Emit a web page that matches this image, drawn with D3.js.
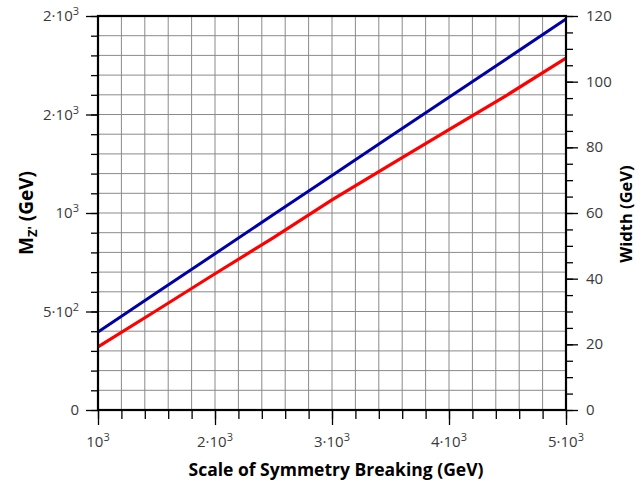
<!DOCTYPE html>
<html><head><meta charset="utf-8">
<script src="https://cdn.jsdelivr.net/npm/d3@7"></script>
<style>
body{margin:0;background:#fff;}
text{font-family:"Open Sans","DejaVu Sans",sans-serif;}
</style></head>
<body><svg id="c" width="641" height="484"></svg>
<script>
// data
const scale = [1000,1500,2000,2500,3000,3500,4000,4500,5000];
const massZp = [396,595,793,992,1190,1389,1588,1786,1985];
const widthZp = [19.2,30.3,41.5,52.5,64.0,74.7,85.4,96.0,107.2];
const leftTicks = [0,500,1000,1500,2000];
const leftLabels = [["0",""],["5·10","2"],["10","3"],["2·10","3"],["2·10","3"]];
const bottomTicks = [1000,2000,3000,4000,5000];
const bottomLabels = [["10","3"],["2·10","3"],["3·10","3"],["4·10","3"],["5·10","3"]];
const rightTicks = [0,20,40,60,80,100,120];
const rightLabels = ["0","20","40","60","80","100","120"];

const W=641,H=484,m={l:98,r:75,t:16,b:74};
const iw=W-m.l-m.r, ih=H-m.t-m.b;
const svg=d3.select("#c");
const g=svg.append("g").attr("transform",`translate(${m.l},${m.t})`);
const x=d3.scaleLinear().domain([1000,5000]).range([0,iw]);
const yL=d3.scaleLinear().domain([0,2000]).range([ih,0]);
const yR=d3.scaleLinear().domain([0,120]).range([ih,0]);

// grid
g.append("g").selectAll("line").data(d3.range(1000,5001,200)).join("line")
 .attr("x1",d=>x(d)).attr("x2",d=>x(d)).attr("y1",0).attr("y2",ih)
 .attr("stroke","#8a8a8a").attr("stroke-width",1);
g.append("g").selectAll("line").data(d3.range(0,2001,100)).join("line")
 .attr("y1",d=>yL(d)).attr("y2",d=>yL(d)).attr("x1",0).attr("x2",iw)
 .attr("stroke","#8a8a8a").attr("stroke-width",1);

// ticks
function ticksAxis(axisGen, sel){ sel.call(axisGen); sel.select(".domain").remove(); sel.selectAll("text").remove(); sel.selectAll("line").attr("stroke","#000").attr("stroke-width",1.3);}
ticksAxis(d3.axisLeft(yL).tickValues(d3.range(0,2001,100)).tickSize(7), g.append("g"));
ticksAxis(d3.axisLeft(yL).tickValues(leftTicks).tickSize(12), g.append("g"));
ticksAxis(d3.axisBottom(x).tickValues(d3.range(1000,5001,200)).tickSize(9), g.append("g").attr("transform",`translate(0,${ih})`));
ticksAxis(d3.axisBottom(x).tickValues(bottomTicks).tickSize(15), g.append("g").attr("transform",`translate(0,${ih})`));
ticksAxis(d3.axisRight(yR).tickValues(d3.range(0,121,5)).tickSize(7), g.append("g").attr("transform",`translate(${iw},0)`));
ticksAxis(d3.axisRight(yR).tickValues(rightTicks).tickSize(12), g.append("g").attr("transform",`translate(${iw},0)`));

// labels
function supLabel(sel, lab){
  sel.append("tspan").text(lab[0]);
  if(lab[1]) sel.append("tspan").attr("dy",-6).attr("font-size",11).text(lab[1]);
}
const lab=svg.append("g").attr("fill","#3a3a3a").attr("font-size",15);
leftTicks.forEach((v,i)=>{
  const t=lab.append("text").attr("x",m.l-19).attr("y",m.t+yL(v)+5).attr("text-anchor","end");
  supLabel(t,leftLabels[i]);
});
bottomTicks.forEach((v,i)=>{
  const t=lab.append("text").attr("x",m.l+x(v)).attr("y",m.t+ih+37).attr("text-anchor","middle");
  supLabel(t,bottomLabels[i]);
});
rightTicks.forEach((v,i)=>{
  lab.append("text").attr("x",m.l+iw+20).attr("y",m.t+yR(v)+5).text(rightLabels[i]);
});

// data lines
const pts=scale.map((s,i)=>({s,m:massZp[i],w:widthZp[i]}));
g.append("path").datum(pts).attr("fill","none").attr("stroke","#0000a8").attr("stroke-width",3)
 .attr("d",d3.line().x(d=>x(d.s)).y(d=>yL(d.m)));
g.append("path").datum(pts).attr("fill","none").attr("stroke","#ff0000").attr("stroke-width",3.2)
 .attr("d",d3.line().x(d=>x(d.s)).y(d=>yR(d.w)));

// frame
g.append("rect").attr("x",0).attr("y",0).attr("width",iw).attr("height",ih)
 .attr("fill","none").attr("stroke","#000").attr("stroke-width",2.2);

// titles
svg.append("text").attr("x",m.l+iw/2+4).attr("y",476).attr("text-anchor","middle")
 .attr("font-weight","bold").attr("font-size",17.5).attr("fill","#000").text("Scale of Symmetry Breaking (GeV)");
const yt=svg.append("text").attr("transform",`translate(33,213) rotate(-90)`).attr("text-anchor","middle")
 .attr("font-weight","bold").attr("font-size",19).attr("fill","#000");
yt.append("tspan").text("M");
yt.append("tspan").attr("dy",4).attr("font-size",13).text("Z'");
yt.append("tspan").attr("dy",-4).text(" (GeV)");
svg.append("text").attr("transform",`translate(632,214) rotate(-90)`).attr("text-anchor","middle")
 .attr("font-weight","bold").attr("font-size",16.5).attr("fill","#000").text("Width (GeV)");
</script></body></html>
